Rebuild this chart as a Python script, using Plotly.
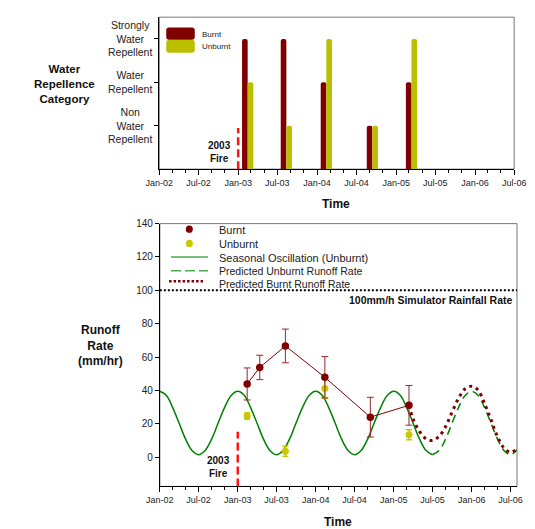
import plotly.graph_objects as go
import pandas as pd

W, H = 535, 529


def px(x):
    return x / W


def py(y):
    return 1 - y / H


FONT = "Arial, Liberation Sans, sans-serif"

# ---------------- data ----------------
sample_dates = ["2003-02-14", "2003-04-14", "2003-08-12", "2004-02-13", "2004-09-13", "2005-03-13"]
burnt_runoff = [43.9, 53.8, 66.7, 47.9, 24.0, 31.1]
burnt_err = [9.6, 7.3, 10.1, 12.4, 11.9, 11.9]

unburnt_dates = ["2003-02-14", "2003-08-12", "2004-02-13", "2005-03-13"]
unburnt_runoff = [24.7, 3.6, 41.2, 13.5]
unburnt_err = [2.0, 3.0, 5.8, 3.0]

wr_dates = ["2003-02-14", "2003-08-12", "2004-02-13", "2004-09-13", "2005-03-13"]
wr_burnt = [3, 3, 2, 1, 2]
wr_unburnt = [2, 1, 3, 1, 3]
wr_categories = [1, 2, 3]
wr_labels = ["Non<br>Water<br>Repellent", "Water<br>Repellent", "Strongly<br>Water<br>Repellent"]

season_dates = pd.date_range("2002-01-01", "2006-08-01", freq="MS")
seasonal = [
    39.5, 37, 30, 20.5, 11, 4, 1.5, 4, 11, 20.5, 30, 37,   # 2002
    39.5, 37, 30, 20.5, 11, 4, 1.5, 4, 11, 20.5, 30, 37,   # 2003
    39.5, 37, 30, 20.5, 11, 4, 1.5, 4, 11, 20.5, 30, 37,   # 2004
    39.5, 37, 30, 20.5, 11, 4, 1.5, 4, 11, 20.5, 30, 37,   # 2005
    39.5, 37, 30, 20.5, 11, 4, 1.5, 4.5,                   # 2006
]
observed_end = 43  # seasonal curve drawn solid through Jul-05

pred_burnt_dates = ["2005-03-13", "2005-04-01", "2005-05-01", "2005-06-01", "2005-07-01",
                    "2005-08-01", "2005-09-01", "2005-10-01", "2005-11-01", "2005-12-01",
                    "2006-01-01", "2006-02-01", "2006-03-01", "2006-04-01", "2006-05-01",
                    "2006-06-01", "2006-07-01", "2006-08-01"]
pred_burnt = [31.1, 23, 15.5, 11, 10, 12.5, 18.5, 27, 35.5, 41,
              42.5, 40, 32.5, 22.5, 12.5, 5.5, 3, 5]

fire_date = "2003-01-01"
simulator_rate = 100

# ---------------- colours ----------------
BURNT = "rgb(128,0,0)"
BURNT_ERR = "rgb(150,40,40)"
UNBURNT_BAR = "rgb(187,191,0)"
UNBURNT_PT = "rgb(200,200,0)"
GREEN = "rgb(0,128,0)"
RED = "rgb(255,20,20)"

fig = go.Figure()

# ---------------- top chart: water repellence ----------------
bw = 26 * 86400000
fig.add_trace(go.Bar(x=wr_dates, y=wr_burnt, width=[bw] * len(wr_dates), offset=-bw,
                     marker=dict(color=BURNT, cornerradius=3, line=dict(width=0)),
                     xaxis="x", yaxis="y", showlegend=False))
fig.add_trace(go.Bar(x=wr_dates, y=wr_unburnt, width=[bw] * len(wr_dates), offset=0,
                     marker=dict(color=UNBURNT_BAR, cornerradius=3, line=dict(width=0)),
                     xaxis="x", yaxis="y", showlegend=False))

# ---------------- bottom chart: runoff ----------------
fig.add_trace(go.Scatter(x=season_dates[:observed_end], y=seasonal[:observed_end], mode="lines",
                         line=dict(color=GREEN, width=1.5, shape="spline"),
                         xaxis="x2", yaxis="y2", showlegend=False))
fig.add_trace(go.Scatter(x=season_dates[observed_end - 1:], y=seasonal[observed_end - 1:], mode="lines",
                         line=dict(color=GREEN, width=1.5, shape="spline", dash="8px,5px"),
                         xaxis="x2", yaxis="y2", showlegend=False))
fig.add_trace(go.Scatter(x=pred_burnt_dates, y=pred_burnt, mode="lines",
                         line=dict(color=BURNT, width=3, shape="spline", dash="3px,4px"),
                         xaxis="x2", yaxis="y2", showlegend=False))
fig.add_trace(go.Scatter(x=unburnt_dates, y=unburnt_runoff, mode="markers",
                         marker=dict(color=UNBURNT_PT, size=7),
                         error_y=dict(type="data", array=unburnt_err, color=UNBURNT_PT, thickness=1.5, width=3),
                         xaxis="x2", yaxis="y2", showlegend=False))
fig.add_trace(go.Scatter(x=sample_dates, y=burnt_runoff, mode="lines+markers",
                         line=dict(color=BURNT, width=1),
                         marker=dict(color=BURNT, size=7.5),
                         error_y=dict(type="data", array=burnt_err, color=BURNT_ERR, thickness=1, width=3.5),
                         xaxis="x2", yaxis="y2", showlegend=False))

# ---------------- axes ----------------
tickfont = dict(family=FONT, size=9, color="#222")
common_x = dict(type="date", tickformat="%b-%y", dtick="M6", tick0="2002-01-01",
                ticks="outside", ticklen=5, tickwidth=1, tickcolor="black",
                showline=True, linecolor="black", linewidth=1, showgrid=False, zeroline=False,
                tickfont=tickfont,
                minor=dict(dtick="M2", tick0="2002-01-01", ticks="outside", ticklen=3,
                           tickcolor="black", showgrid=False))

fig.update_layout(
    width=W, height=H, autosize=False,
    margin=dict(l=0, r=0, t=0, b=0),
    paper_bgcolor="white", plot_bgcolor="white",
    barmode="overlay",
    xaxis=dict(**common_x, domain=[px(152.7), px(525.7)], range=["2002-01-01", "2006-07-01"], anchor="y"),
    yaxis=dict(domain=[py(165.7), py(12.3)], range=[0, 3.5], tickvals=wr_categories,
               showticklabels=False, ticks="outside", ticklen=4, tickcolor="black",
               showline=True, linecolor="black", showgrid=False, zeroline=False, anchor="x"),
    xaxis2=dict(**common_x, domain=[px(153.3), px(528.7)], range=["2002-01-01", "2006-08-01"], anchor="y2"),
    yaxis2=dict(domain=[py(486), py(220.7)], range=[-17.5, 140], dtick=20, tick0=0,
                ticks="outside", ticklen=4, tickcolor="black",
                tickfont=dict(family=FONT, size=10, color="#222"),
                showline=True, linecolor="black", showgrid=False, zeroline=False, anchor="x2"),
    font=dict(family=FONT, color="#222"),
)

shapes = []
annotations = []

# frames (top & right borders)
for xr, yr in (("x", "y"), ("x2", "y2")):
    shapes.append(dict(type="rect", xref=xr + " domain", yref=yr + " domain", x0=0, x1=1, y0=0, y1=1,
                       line=dict(color="#777", width=1), layer="below"))

# 2003 fire lines
shapes.append(dict(type="line", xref="x", yref="y", x0=fire_date, x1=fire_date, y0=0, y1=0.95,
                   line=dict(color=RED, width=2.5, dash="8px,4px")))
shapes.append(dict(type="line", xref="x2", yref="y2", x0=fire_date, x1=fire_date, y0=-17.5, y1=15.2,
                   line=dict(color=RED, width=2.5, dash="8px,4px")))
annotations.append(dict(xref="paper", yref="paper", x=px(230), y=py(148), xanchor="right", yanchor="middle",
                        text="<b>2003<br>Fire</b>", showarrow=False, align="center",
                        font=dict(family=FONT, size=10, color="#111")))
annotations.append(dict(xref="paper", yref="paper", x=px(229), y=py(466.5), xanchor="right", yanchor="middle",
                        text="<b>2003<br>Fire</b>", showarrow=False, align="center",
                        font=dict(family=FONT, size=10, color="#111")))

# simulator rainfall line
shapes.append(dict(type="line", xref="x2 domain", yref="y2", x0=0, x1=1, y0=simulator_rate, y1=simulator_rate,
                   line=dict(color="black", width=2, dash="2px,2px")))
annotations.append(dict(xref="paper", yref="paper", x=px(527), y=py(298.3), xanchor="right", yanchor="middle",
                        text="<b>100mm/h Simulator Rainfall Rate</b>", showarrow=False,
                        font=dict(family=FONT, size=10.5, color="#111")))

# top y tick labels
for v, lab in zip(wr_categories, wr_labels):
    annotations.append(dict(xref="paper", yref="y", x=px(122), y=v, xanchor="center", yanchor="middle",
                            text=lab, showarrow=False, align="center",
                            font=dict(family=FONT, size=10.5, color="#222")))

# axis titles
annotations.append(dict(xref="paper", yref="paper", x=px(52.7), y=py(80), xanchor="center", yanchor="middle",
                        text="<b>Water<br>Repellence<br>Category</b>", showarrow=False, align="center",
                        font=dict(family=FONT, size=11.5, color="#111")))
annotations.append(dict(xref="paper", yref="paper", x=px(91.3), y=py(343.3), xanchor="center", yanchor="middle",
                        text="<b>Runoff<br>Rate<br>(mm/hr)</b>", showarrow=False, align="center",
                        font=dict(family=FONT, size=12, color="#111")))
annotations.append(dict(xref="paper", yref="paper", x=px(338.7), y=py(201), xanchor="center", yanchor="middle",
                        text="<b>Time</b>", showarrow=False, font=dict(family=FONT, size=12, color="#111")))
annotations.append(dict(xref="paper", yref="paper", x=px(340.7), y=py(522), xanchor="center", yanchor="middle",
                        text="<b>Time</b>", showarrow=False, font=dict(family=FONT, size=12, color="#111")))


# top legend (rounded swatches)
def rounded_rect(x0, y0, x1, y1, r):
    X = lambda v: px(v)
    Y = lambda v: py(v)
    return (f"M {X(x0 + r)} {Y(y0)} L {X(x1 - r)} {Y(y0)} Q {X(x1)} {Y(y0)} {X(x1)} {Y(y0 + r)} "
            f"L {X(x1)} {Y(y1 - r)} Q {X(x1)} {Y(y1)} {X(x1 - r)} {Y(y1)} "
            f"L {X(x0 + r)} {Y(y1)} Q {X(x0)} {Y(y1)} {X(x0)} {Y(y1 - r)} "
            f"L {X(x0)} {Y(y0 + r)} Q {X(x0)} {Y(y0)} {X(x0 + r)} {Y(y0)} Z")


shapes.append(dict(type="path", xref="paper", yref="paper", path=rounded_rect(160, 35, 190, 48.3, 3),
                   fillcolor=UNBURNT_BAR, line=dict(width=0)))
shapes.append(dict(type="path", xref="paper", yref="paper", path=rounded_rect(160, 22.7, 190, 35, 3),
                   fillcolor=BURNT, line=dict(width=0)))
for txt, yy in (("Burnt", 30), ("Unburnt", 42.3)):
    annotations.append(dict(xref="paper", yref="paper", x=px(196), y=py(yy), xanchor="left", yanchor="middle",
                            text=txt, showarrow=False, font=dict(family=FONT, size=8, color="#222")))

# bottom legend
r = 3.7
for col, yy in ((BURNT, 226.3), (UNBURNT_PT, 240.7)):
    shapes.append(dict(type="circle", xref="paper", yref="paper", x0=px(184.3 - r), x1=px(184.3 + r),
                       y0=py(yy + r), y1=py(yy - r), fillcolor=col, line=dict(width=0)))
shapes.append(dict(type="line", xref="paper", yref="paper", x0=px(165), x1=px(204), y0=py(254.3), y1=py(254.3),
                   line=dict(color="rgb(80,170,80)", width=1.5)))
shapes.append(dict(type="line", xref="paper", yref="paper", x0=px(165), x1=px(204), y0=py(268.3), y1=py(268.3),
                   line=dict(color="rgb(80,170,80)", width=1.5, dash="10px,4px")))
shapes.append(dict(type="line", xref="paper", yref="paper", x0=px(163), x1=px(200), y0=py(279), y1=py(279),
                   line=dict(color=BURNT, width=2.5, dash="2.5px,2px")))
for txt, yy, fs in (("Burnt", 227, 11), ("Unburnt", 241, 11), ("Seasonal Oscillation (Unburnt)", 255, 11),
                    ("Predicted Unburnt Runoff Rate", 268.5, 10.5), ("Predicted Burnt Runoff Rate", 281.5, 10.5)):
    annotations.append(dict(xref="paper", yref="paper", x=px(213.3), y=py(yy), xanchor="left", yanchor="middle",
                            text=txt, showarrow=False, font=dict(family=FONT, size=fs, color="#222")))

fig.update_layout(shapes=shapes, annotations=annotations)
fig.write_html("out.html")
